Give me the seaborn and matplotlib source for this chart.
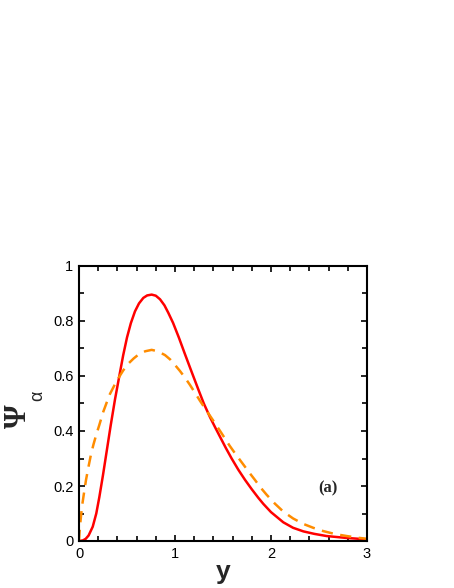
import matplotlib
matplotlib.use("Agg")
import matplotlib.pyplot as plt
import seaborn as sns
import pandas as pd
from matplotlib.ticker import MultipleLocator
from matplotlib import font_manager as fm

# ---- data ----
red_x = [0, 0.04, 0.07, 0.1, 0.143, 0.18, 0.212, 0.25, 0.29, 0.33, 0.375, 0.42, 0.46, 0.5,
         0.54, 0.583, 0.625, 0.67, 0.71, 0.757, 0.8, 0.844, 0.89, 0.93, 0.98, 1.04, 1.1,
         1.17, 1.243, 1.3, 1.365, 1.42, 1.469, 1.53, 1.59, 1.66, 1.73, 1.8, 1.868, 1.92,
         2.0, 2.128, 2.23, 2.337, 2.45, 2.58, 2.79, 3.0]
red_y = [0, 0.002, 0.008, 0.02, 0.052, 0.10, 0.16, 0.24, 0.33, 0.42, 0.515, 0.60, 0.675, 0.74,
         0.792, 0.835, 0.864, 0.884, 0.893, 0.896, 0.892, 0.879, 0.857, 0.83, 0.793, 0.74, 0.683,
         0.618, 0.551, 0.50, 0.45, 0.412, 0.379, 0.338, 0.30, 0.259, 0.222, 0.188, 0.157, 0.135,
         0.105, 0.068, 0.048, 0.035, 0.026, 0.018, 0.011, 0.006]

orange_x = [0, 0.005, 0.015, 0.031, 0.05, 0.073, 0.1, 0.125, 0.15, 0.18, 0.21, 0.253, 0.29,
            0.323, 0.37, 0.41, 0.46, 0.514, 0.57, 0.62, 0.69, 0.757, 0.82, 0.896, 0.95, 1.0,
            1.05, 1.104, 1.155, 1.208, 1.26, 1.313, 1.365, 1.417, 1.47, 1.52, 1.57, 1.625,
            1.68, 1.729, 1.78, 1.833, 1.89, 1.955, 2.04, 2.128, 2.23, 2.337, 2.44, 2.545,
            2.67, 2.79, 2.9, 3.0]
orange_y = [0, 0.03, 0.07, 0.125, 0.17, 0.222, 0.272, 0.315, 0.35, 0.387, 0.42, 0.47, 0.505,
            0.535, 0.567, 0.592, 0.62, 0.645, 0.664, 0.678, 0.69, 0.695, 0.69, 0.676, 0.66, 0.64,
            0.619, 0.594, 0.568, 0.539, 0.51, 0.482, 0.455, 0.428, 0.40, 0.373, 0.346, 0.319,
            0.293, 0.27, 0.246, 0.222, 0.195, 0.168, 0.136, 0.107, 0.082, 0.062, 0.048, 0.036,
            0.025, 0.018, 0.012, 0.008]

x_ticks = [0, 1, 2, 3]
y_ticks = [0, 0.2, 0.4, 0.6, 0.8, 1.0]
y_tick_labels = ["0", "0.2", "0.4", "0.6", "0.8", "1"]
x_label = "y"
y_label_main = "Ψ"
y_label_sub = "α"
panel_label = "(a)"

sns.set_style("ticks")
plt.rcParams['font.family'] = ['Liberation Sans', 'DejaVu Sans']


def fp(family, weight, size):
    path = fm.findfont(fm.FontProperties(family=family, weight=weight))
    return fm.FontProperties(fname=path, size=size)


W, H = 454, 588
fig = plt.figure(figsize=(W / 100, H / 100), dpi=100)
L, R, T, B = 79, 367, 266, 541
ax = fig.add_axes([L / W, 1 - B / H, (R - L) / W, (B - T) / H])

df_red = pd.DataFrame({"x": red_x, "v": red_y})
df_or = pd.DataFrame({"x": orange_x, "v": orange_y})
sns.lineplot(data=df_red, x="x", y="v", ax=ax, color="#ff0000", lw=1.8, sort=False)
sns.lineplot(data=df_or, x="x", y="v", ax=ax, color="#ff8c00", lw=1.8, sort=False,
             dashes=False, linestyle=(0, (4.5, 3)))
for ln in ax.lines:
    ln.set_solid_joinstyle("round")
    ln.set_dash_joinstyle("round")

tick_fp = fp("Liberation Sans", "normal", 10.5)
ax.set_xlim(0, 3)
ax.set_ylim(0, 1)
ax.set_xticks(x_ticks)
ax.set_xticklabels([str(t) for t in x_ticks], fontproperties=tick_fp)
ax.set_yticks(y_ticks)
ax.set_yticklabels(y_tick_labels, fontproperties=tick_fp)
ax.xaxis.set_minor_locator(MultipleLocator(0.2))
ax.yaxis.set_minor_locator(MultipleLocator(0.1))
ax.tick_params(which="both", direction="in", top=True, right=True, width=1.2,
               colors="black", pad=4)
ax.tick_params(which="major", length=4.5)
ax.tick_params(which="minor", length=3.5)
for s in ax.spines.values():
    s.set_linewidth(1.5)
    s.set_color("black")
ax.set_xlabel("")
ax.set_ylabel("")

fig.text(223 / W, 1 - 572 / H, x_label, ha="center", va="center",
         fontproperties=fp("Liberation Sans", "bold", 19))
fig.text(18 / W, 1 - 416 / H, y_label_main, rotation=90, ha="center", va="center",
         fontproperties=fp("Liberation Serif", "bold", 22))
fig.text(38 / W, 1 - 396 / H, y_label_sub, rotation=90, ha="center", va="center",
         fontproperties=fp("Liberation Sans", "normal", 13))
fig.text(328 / W, 1 - 488 / H, panel_label, ha="center", va="center",
         fontproperties=fp("Liberation Serif", "bold", 12))

fig.savefig("out.png", dpi=100)
